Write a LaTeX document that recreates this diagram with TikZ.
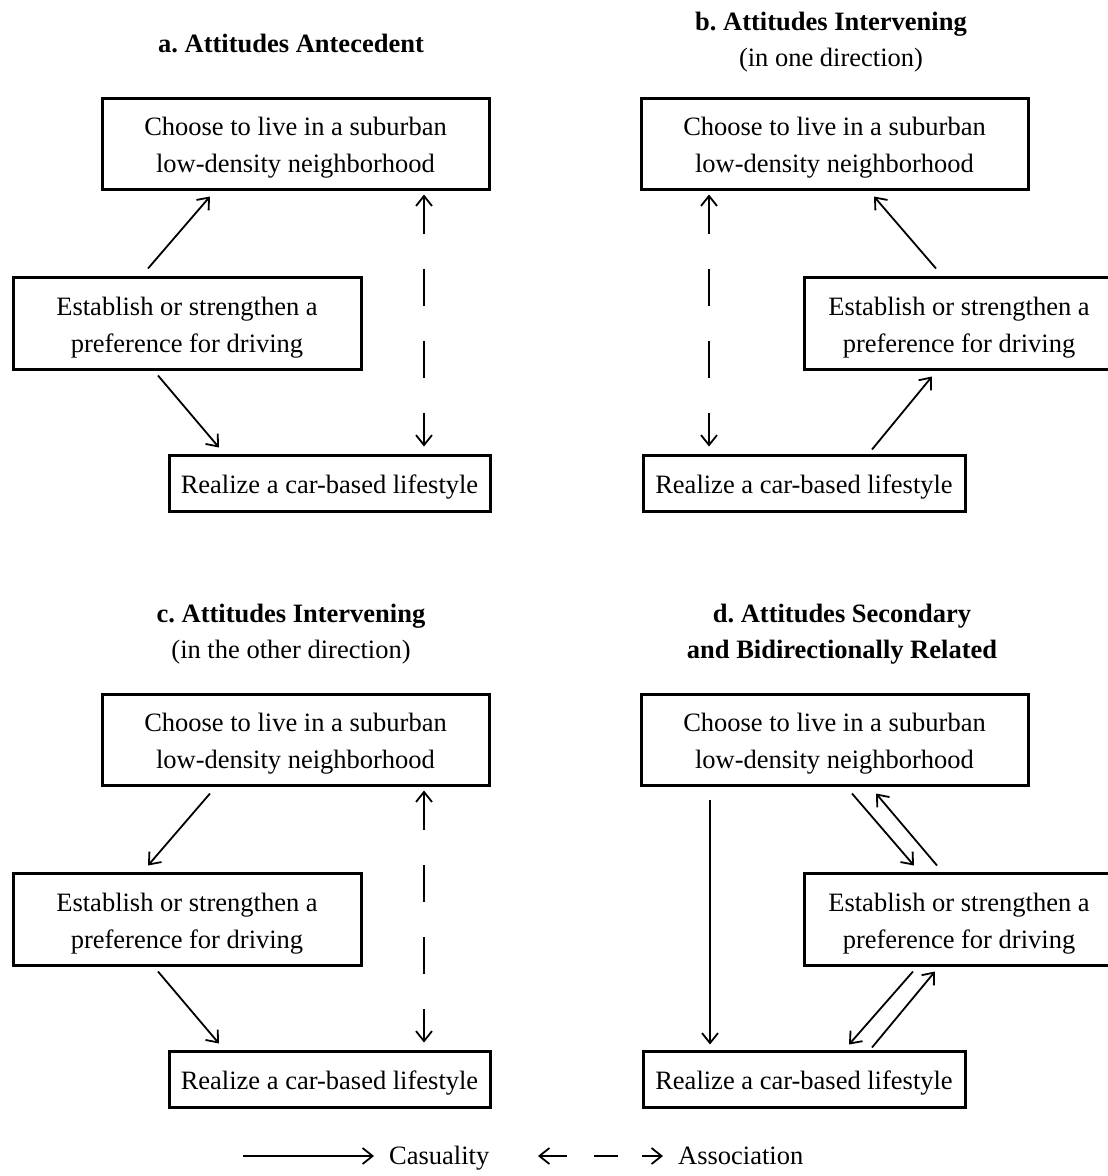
\documentclass[tikz,border=0pt]{standalone}
\usepackage{fontspec}
\setmainfont{Liberation Serif}
\usepackage{tikz}
\usetikzlibrary{arrows.meta}
\usetikzlibrary{calc}
\newcommand{\diagfont}{\fontsize{26.5}{37}\selectfont\frenchspacing}
\newcommand{\boxstrut}{\rule{0pt}{27pt}} % 让方框中的文字略微下移
\tikzset{
    box/.style={draw, line width=3pt, inner sep=0pt, align=center, font=\diagfont}, % 方框样式
    barb/.tip={Straight Barb[length=10pt, width=16pt]}, % 箭头
    cause/.style={line width=1.8pt, -barb}, % 因果: 实线箭头
    assoc/.style={line width=1.8pt, barb-barb, dash pattern=on 37pt off 35pt}, % 关联: 虚线双向
    key assoc/.style={assoc, dash pattern=on 27pt off 27pt on 24pt off 24pt}, % 图例中的虚线
    paneltitle/.style={anchor=base, inner sep=0pt, font=\diagfont}
}

\begin{document}
\begin{tikzpicture}[x=1pt, y=-1pt]
    \useasboundingbox (0,0) rectangle (1108,1176);

    % --- 1. 各子图标题 ---
    \node[paneltitle] (a-title) at (291,52) {\bfseries a. Attitudes Antecedent};
    \node[paneltitle] (b-title) at (831,30) {\bfseries b. Attitudes Intervening};
    \node[paneltitle] (b-note) at (831,66) {(in one direction)};
    \node[paneltitle] (c-title) at (291,622) {\bfseries c. Attitudes Intervening};
    \node[paneltitle] (c-note) at (291,658) {(in the other direction)};
    \node[paneltitle] (d-title) at (842,622) {\bfseries d. Attitudes Secondary};
    \node[paneltitle] (d-note) at (842,658) {\bfseries and Bidirectionally Related};

    % --- 2. 方框: 左列 (a, c) 与右列 (b, d) 布局相同 ---
    % 循环格式: \p / \dy, \p 是子图名, \dy 是纵向偏移
    \foreach \p / \dy in {a/0, c/596} {
        \node[box, minimum width=387, minimum height=91] (\p-top) at (295.5, {143.5+\dy})
            {\boxstrut Choose to live in a suburban\\low-density neighborhood};
        \node[box, minimum width=348, minimum height=92] (\p-mid) at (187, {323+\dy})
            {\boxstrut Establish or strengthen a\\preference for driving};
        \node[box, minimum width=321, minimum height=56] (\p-bot) at (329.5, {483+\dy})
            {\boxstrut Realize a car-based lifestyle};
    }
    \foreach \p / \dy in {b/0, d/596} {
        \node[box, minimum width=387, minimum height=91] (\p-top) at (834.5, {143.5+\dy})
            {\boxstrut Choose to live in a suburban\\low-density neighborhood};
        \node[box, minimum width=310, minimum height=92] (\p-mid) at (959, {323+\dy})
            {\boxstrut Establish or strengthen a\\preference for driving};
        \node[box, minimum width=322, minimum height=56] (\p-bot) at (804, {483+\dy})
            {\boxstrut Realize a car-based lifestyle};
    }

    % --- 3. 箭头 ---
    % 图 a
    \draw[cause] ($(a-mid.north)+(-39,-7)$) -- ($(a-top.south)+(-85.5,6)$);
    \draw[cause] ($(a-mid.south)+(-29,5)$) -- ($(a-bot.north)+(-110.5,-6)$);
    \draw[assoc] ($(a-top.south)+(128.5,4)$) -- ($(a-bot.north)+(94.5,-7)$);

    % 图 b
    \draw[cause] ($(b-mid.north)+(-23,-7)$) -- ($(b-top.south)+(39.5,6)$);
    \draw[cause] ($(b-bot.north)+(68,-4)$) -- ($(b-mid.south)+(-27,6)$);
    \draw[assoc] ($(b-top.south)+(-125.5,4)$) -- ($(b-bot.north)+(-95,-7)$);

    % 图 c
    \draw[cause] ($(c-top.south)+(-85.5,7)$) -- ($(c-mid.north)+(-39,-6)$);
    \draw[cause] ($(c-mid.south)+(-29,5)$) -- ($(c-bot.north)+(-110.5,-6)$);
    \draw[assoc] ($(c-top.south)+(128.5,4)$) -- ($(c-bot.north)+(94.5,-7)$);

    % 图 d: 双向的两对箭头
    \draw[cause] ($(d-top.south)+(-124.5,13)$) -- ($(d-bot.north)+(-94,-5)$);
    \draw[cause] ($(d-top.south)+(17.5,7)$) -- ($(d-mid.north)+(-45,-6)$);
    \draw[cause] ($(d-mid.north)+(-22,-6)$) -- ($(d-top.south)+(41.5,7)$);
    \draw[cause] ($(d-mid.south)+(-46,5)$) -- ($(d-bot.north)+(45,-5)$);
    \draw[cause] ($(d-bot.north)+(68,-2)$) -- ($(d-mid.south)+(-24,5)$);

    % --- 4. 图例 ---
    \coordinate (cause-l) at (243,1156);
    \coordinate (cause-r) at (374,1156);
    \coordinate (assoc-l) at (538,1156);
    \coordinate (assoc-r) at (663,1156);
    \draw[cause] (cause-l) -- (cause-r);
    \draw[key assoc] (assoc-l) -- (assoc-r);
    \node[paneltitle, anchor=base west] (cause-key) at (389,1164) {Casuality};
    \node[paneltitle, anchor=base west] (assoc-key) at (678,1164) {Association};
\end{tikzpicture}
\end{document}
